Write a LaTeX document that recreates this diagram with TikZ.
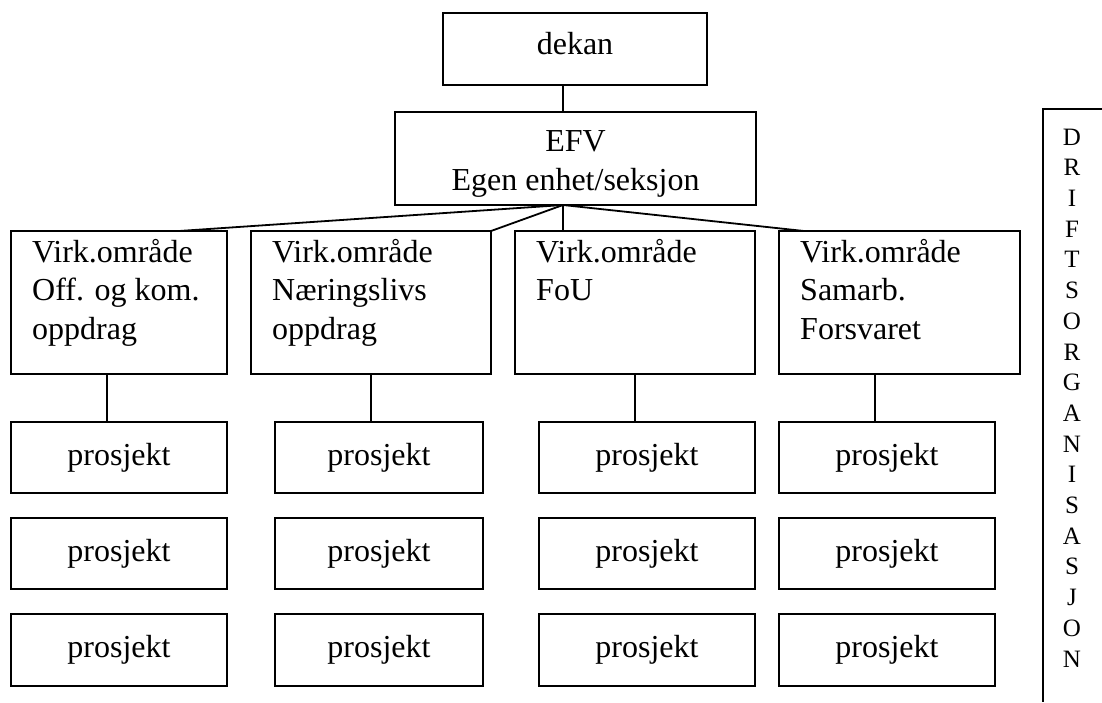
\documentclass[tikz,border=0pt]{standalone}
\usepackage{fontspec}
\setmainfont{Liberation Serif}
\begin{document}
\begin{tikzpicture}[x=1pt,y=-1pt,
  box/.style={draw, line width=1.8pt, inner sep=0pt, outer sep=0pt},
  conn/.style={line width=1.8pt},
  big/.style={font=\fontsize{32}{38.5}\selectfont},
  vtext/.style={big, align=left, inner sep=0pt, anchor=base west},
  side/.style={font=\fontsize{25}{30.7}\selectfont, align=center, inner sep=0pt, anchor=base}
]
\useasboundingbox (0,0) rectangle (1102,702);
% top
\node[box, minimum width=264pt, minimum height=72pt] (dekan) at (575,49) {};
\node[big, anchor=base, inner sep=0pt] (dekantxt) at (575,54) {dekan};
\node[box, minimum width=361pt, minimum height=93pt] (EFV) at (575.5,158.5) {};
\node[font=\fontsize{32}{38.5}\selectfont, align=center, anchor=base, inner sep=0pt] (EFVtxt)
  at (575.5,190) {EFV\\Egen enhet/seksjon};
% virk boxes
\node[box, minimum width=216pt, minimum height=143pt] (B1) at (119,302.5) {};
\node[box, minimum width=240pt, minimum height=143pt] (B2) at (371,302.5) {};
\node[box, minimum width=240pt, minimum height=143pt] (B3) at (635,302.5) {};
\node[box, minimum width=241pt, minimum height=143pt] (B4) at (899.5,302.5) {};
% anchor base = baseline of the last line
\node[vtext] (T1) at ([xshift=21pt,yshift=-108pt]B1.north west) {Virk.område\\Off. og kom.\\oppdrag};
\node[vtext] (T2) at ([xshift=21pt,yshift=-108pt]B2.north west) {Virk.område\\Næringslivs\\oppdrag};
\node[vtext] (T3) at ([xshift=21pt,yshift=-69.5pt]B3.north west) {Virk.område\\FoU};
\node[vtext] (T4) at ([xshift=21pt,yshift=-108pt]B4.north west) {Virk.område\\Samarb.\\Forsvaret};
% prosjekt boxes
\foreach \c/\x/\w in {1/119/216, 2/379/208, 3/647/216, 4/887/216}{
  \foreach \r/\y/\h in {1/457.5/71, 2/553.5/71, 3/650/72}{
    \node[box, big, minimum width=\w pt, minimum height=\h pt] (P\c\r) at (\x,\y) {prosjekt};
  }
}
% connector x positions
\coordinate (fo) at (563,0);
\coordinate (e1) at (179,0);
\coordinate (e4) at (804,0);
\coordinate (c1) at (107,0);
\coordinate (c2) at (371,0);
\coordinate (c3) at (635,0);
\coordinate (c4) at (875,0);
\draw[conn] (dekan.south -| fo) -- (EFV.north -| fo);
\draw[conn] (EFV.south -| fo) -- (B1.north -| e1);
\draw[conn] (EFV.south -| fo) -- (B2.north east);
\draw[conn] (EFV.south -| fo) -- (B3.north -| fo);
\draw[conn] (EFV.south -| fo) -- (B4.north -| e4);
\draw[conn] (B1.south -| c1) -- (P11.north -| c1);
\draw[conn] (B2.south -| c2) -- (P21.north -| c2);
\draw[conn] (B3.south -| c3) -- (P31.north -| c3);
\draw[conn] (B4.south -| c4) -- (P41.north -| c4);
% right side bar
\draw[conn] (1102,109) -- (1043,109) -- (1043,702);
\node[side] (drift) at (1072,667) {D\\R\\I\\F\\T\\S\\O\\R\\G\\A\\N\\I\\S\\A\\S\\J\\O\\N};
\end{tikzpicture}
\end{document}
